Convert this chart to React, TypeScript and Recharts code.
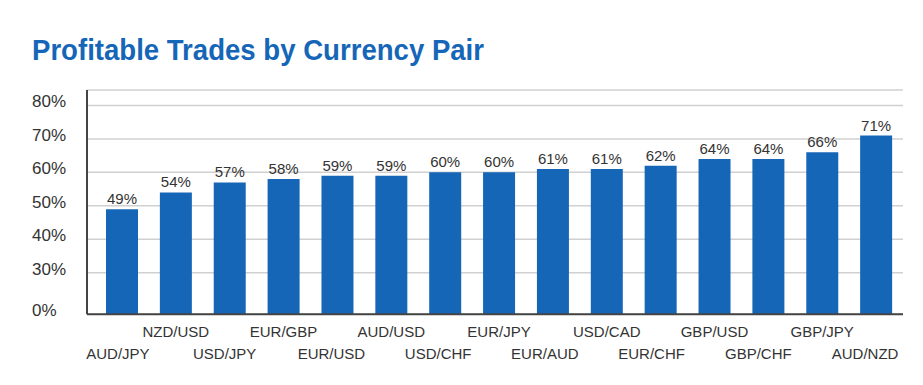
import React from "react";
import { BarChart, Bar, XAxis, YAxis, CartesianGrid, LabelList } from "recharts";

// Currency pairs, ordered by share of profitable trades
const pairs: string[] = [
  "AUD/JPY", "NZD/USD", "USD/JPY", "EUR/GBP", "EUR/USD",
  "AUD/USD", "USD/CHF", "EUR/JPY", "EUR/AUD", "USD/CAD",
  "EUR/CHF", "GBP/USD", "GBP/CHF", "GBP/JPY", "AUD/NZD",
];

// Percentage of trades that closed in profit
const profitable: number[] = [49, 54, 57, 58, 59, 59, 60, 60, 61, 61, 62, 64, 64, 66, 71];

// Broken value axis: the floor is shown as "0%", then 30% .. 80%
const AXIS_FLOOR = 17.6;
const AXIS_TOP = 84.6;
const yTicks: number[] = [AXIS_FLOOR, 30, 40, 50, 60, 70, 80];

const data = pairs.map((pair, i) => ({ pair, value: profitable[i] }));

const BLUE = "#1666b8";
const TEXT = "#333333";
const FONT = "'Liberation Sans', Arial, sans-serif";

const fmtTick = (v: number) => (v === AXIS_FLOOR ? "0%" : `${v}%`);

const YTick = (props: any) => {
  const { y, payload } = props;
  return (
    <text x={32} y={y - 4} dy="0.35em" textAnchor="start" fontSize={17} fill={TEXT} fontFamily={FONT}>
      {fmtTick(payload.value)}
    </text>
  );
};

const XTick = (props: any) => {
  const { x, y, payload, index } = props;
  const upper = index % 2 === 1;
  return (
    <text
      x={upper ? x : x - 4 - index * 0.5}
      y={y + (upper ? 22.5 : 45)}
      textAnchor="middle"
      fontSize={15}
      fill={TEXT}
      fontFamily={FONT}
    >
      {payload.value}
    </text>
  );
};

export default function App() {
  return (
    <div style={{ position: "absolute", left: 0, top: 0, width: 923, height: 385, background: "#fff" }}>
      <svg width={923} height={80} style={{ position: "absolute", left: 0, top: 0 }}>
        <text
          x={32}
          y={60}
          fontSize={29}
          fontWeight="bold"
          fill={BLUE}
          fontFamily={FONT}
          textLength={452}
          lengthAdjust="spacingAndGlyphs"
        >
          Profitable Trades by Currency Pair
        </text>
      </svg>
      <BarChart
        width={923}
        height={385}
        data={data}
        margin={{ top: 90, right: 20, bottom: 10.7, left: 0 }}
        barSize={32}
      >
        <CartesianGrid vertical={false} stroke="#d0d0d0" strokeWidth={1.5} />
        <XAxis
          dataKey="pair"
          interval={0}
          height={60}
          tickSize={0}
          tickMargin={0}
          tickLine={false}
          padding={{ left: 8, right: 0 }}
          axisLine={{ stroke: "#444", strokeWidth: 2 }}
          tick={<XTick />}
        />
        <YAxis
          width={87}
          domain={[AXIS_FLOOR, AXIS_TOP]}
          ticks={yTicks}
          interval={0}
          tickLine={false}
          axisLine={{ stroke: "#444", strokeWidth: 2 }}
          tick={<YTick />}
          allowDataOverflow
        />
        <Bar dataKey="value" fill={BLUE} isAnimationActive={false}>
          <LabelList
            dataKey="value"
            position="top"
            offset={5}
            formatter={(v: any) => `${v}%`}
            fontSize={15}
            fill={TEXT}
            fontFamily={FONT}
          />
        </Bar>
      </BarChart>
    </div>
  );
}
